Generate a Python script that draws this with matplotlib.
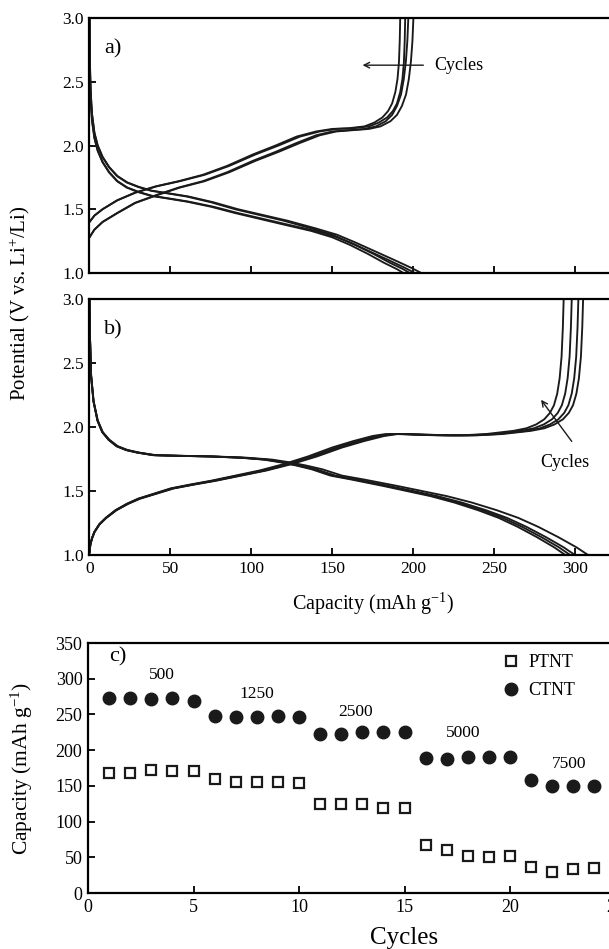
import numpy as np
import matplotlib.pyplot as plt

plt.rcParams['font.family'] = ['Liberation Serif', 'DejaVu Serif']
plt.rcParams['mathtext.fontset'] = 'custom'
plt.rcParams['mathtext.rm'] = 'Liberation Serif'
plt.rcParams['mathtext.it'] = 'Liberation Serif:italic'

# panel a) - charge / discharge, two bands of cycles each
a_chg_up_x = [0, 3, 8, 17, 28, 41, 55, 70, 85, 101, 115, 128, 140, 150, 160, 170, 176, 181, 184.5, 187, 189, 190.3, 191.2, 191.7, 192]
a_chg_up_v = [1.40, 1.45, 1.50, 1.57, 1.63, 1.68, 1.72, 1.77, 1.84, 1.93, 2.00, 2.07, 2.11, 2.13, 2.135, 2.15, 2.18, 2.22, 2.27, 2.33, 2.42, 2.52, 2.65, 2.82, 3.00]
a_chg_lo_x = [0, 3, 8, 17, 28, 41, 55, 70, 85, 101, 115, 128, 140, 150, 160, 170, 177, 183, 187, 190, 192.5, 194.2, 195.5, 196.4, 197]
a_chg_lo_v = [1.28, 1.34, 1.40, 1.47, 1.55, 1.61, 1.67, 1.72, 1.79, 1.88, 1.95, 2.02, 2.08, 2.11, 2.12, 2.13, 2.15, 2.19, 2.24, 2.31, 2.40, 2.52, 2.66, 2.82, 3.00]
a_chg_factor = [1.0, 1.016]

a_dis_up_x = [0, 0.2, 0.6, 1.5, 3, 5, 8, 12, 17, 23, 30, 38, 48, 60, 75, 90, 105, 120, 137, 150, 161, 173, 185, 195, 201]
a_dis_up_v = [3.0, 2.7, 2.45, 2.25, 2.1, 2.0, 1.91, 1.83, 1.76, 1.71, 1.675, 1.645, 1.625, 1.60, 1.555, 1.50, 1.455, 1.41, 1.35, 1.30, 1.24, 1.17, 1.10, 1.04, 1.0]
a_dis_lo_x = [0, 0.2, 0.6, 1.5, 3, 5, 8, 12, 17, 23, 30, 38, 48, 60, 75, 90, 105, 120, 137, 150, 161, 172, 182, 190, 194]
a_dis_lo_v = [3.0, 2.65, 2.4, 2.2, 2.06, 1.96, 1.87, 1.79, 1.72, 1.67, 1.635, 1.605, 1.585, 1.56, 1.52, 1.47, 1.425, 1.38, 1.33, 1.28, 1.22, 1.15, 1.08, 1.03, 1.0]
a_dis_factor = [1.0, 1.02]

# panel b)
b_dis_x = [0, 0.3, 1, 2.5, 5, 8, 12, 17, 23, 30, 40, 55, 75, 95, 110, 120, 130, 140, 152, 165, 185, 200, 215, 230, 245, 258, 270, 282, 293, 300]
b_dis_v = [3.0, 2.7, 2.4, 2.2, 2.05, 1.96, 1.90, 1.85, 1.82, 1.80, 1.78, 1.775, 1.77, 1.76, 1.745, 1.725, 1.70, 1.67, 1.62, 1.59, 1.54, 1.50, 1.46, 1.41, 1.35, 1.29, 1.22, 1.14, 1.06, 1.0]
b_dis_factor = [0.98, 0.99, 1.0, 1.027]

b_chg_x = [0, 0.5, 1.5, 3, 6, 10, 16, 23, 30, 40, 50, 62, 75, 90, 105, 120, 135, 150, 163, 175, 183, 190, 200, 215, 230, 245, 262, 270, 276, 281, 284.5, 287, 289, 290.5, 291.7, 292.5, 293]
b_chg_v = [1.02, 1.08, 1.13, 1.18, 1.24, 1.29, 1.35, 1.40, 1.44, 1.48, 1.52, 1.55, 1.58, 1.62, 1.66, 1.71, 1.77, 1.84, 1.89, 1.93, 1.945, 1.945, 1.94, 1.935, 1.935, 1.945, 1.97, 1.99, 2.02, 2.06, 2.11, 2.17, 2.26, 2.38, 2.55, 2.78, 3.0]
b_chg_factor = [1.0, 1.017, 1.031, 1.041]

# panel c) - rate capability
cycles = list(range(1, 26))
ptnt = [168, 168, 172, 171, 171, 160, 156, 156, 156, 154,
        125, 125, 125, 119, 119, 67, 60, 52, 51, 52,
        36, 30, 33, 35, 35]
ctnt = [273, 273, 271, 273, 269, 248, 247, 247, 248, 247,
        223, 223, 225, 225, 226, 189, 188, 191, 190, 191,
        158, 150, 150, 150, 150]
rates = ['500', '1250', '2500', '5000', '7500']
rate_x = [3.5, 8.0, 12.7, 17.8, 22.8]
rate_y = [305, 279, 254, 224, 181]

W, H = 609, 949
fig = plt.figure(figsize=(W / 100, H / 100), dpi=100)

k = (575 - 89.5) / 300.0
ax_a = fig.add_axes([89.5 / W, 1 - 273 / H, 350 * k / W, 255 / H])
ax_b = fig.add_axes([89.5 / W, 1 - 555 / H, 350 * k / W, 256 / H])
ax_c = fig.add_axes([88 / W, 1 - 893 / H, 30 * 21.1 / W, 250 / H])


def style(ax, size):
    for s in ax.spines.values():
        s.set_linewidth(1.6)
    ax.tick_params(direction='in', length=5, width=1.3, labelsize=size,
                   top=False, right=False, pad=4)


lw = 1.35
col = '#1a1a1a'
for xs, vs in [(a_chg_up_x, a_chg_up_v), (a_chg_lo_x, a_chg_lo_v)]:
    for f in a_chg_factor:
        ax_a.plot(np.array(xs) * f, vs, color=col, lw=lw)
for xs, vs in [(a_dis_up_x, a_dis_up_v), (a_dis_lo_x, a_dis_lo_v)]:
    for f in a_dis_factor:
        ax_a.plot(np.array(xs) * f, vs, color=col, lw=lw)

for f in b_dis_factor:
    ax_b.plot(np.array(b_dis_x) * f, b_dis_v, color=col, lw=lw)
for f in b_chg_factor:
    ax_b.plot(np.array(b_chg_x) * f, b_chg_v, color=col, lw=lw)

for ax in (ax_a, ax_b):
    ax.set_xlim(0, 350)
    ax.set_ylim(1.0, 3.0)
    ax.set_xticks(range(0, 351, 50))
    ax.set_yticks([1.0, 1.5, 2.0, 2.5, 3.0])
    ax.set_yticklabels(['1.0', '1.5', '2.0', '2.5', '3.0'])
    style(ax, 12.5)
ax_a.set_xticklabels([])
ax_b.set_xlabel('Capacity (mAh g$^{\\mathregular{-1}}$)', fontsize=14.5, labelpad=10)

ax_a.text(9, 2.76, 'a)', fontsize=16, va='center')
ax_b.text(9, 2.76, 'b)', fontsize=16, va='center')

ax_a.annotate('', xy=(167, 2.63), xytext=(208, 2.63),
              arrowprops=dict(arrowstyle='->', lw=1.0, color=col))
ax_a.text(213, 2.63, 'Cycles', fontsize=13, va='center')
ax_b.annotate('', xy=(278, 2.23), xytext=(299, 1.87),
              arrowprops=dict(arrowstyle='->', lw=1.0, color=col))
ax_b.text(294, 1.72, 'Cycles', fontsize=13, va='center', ha='center')

fig.text(20 / W, 1 - 303 / H, 'Potential (V vs. Li$^{\\mathregular{+}}$/Li)',
         rotation=90, fontsize=15, ha='center', va='center')

# panel c
ax_c.plot(cycles, ptnt, 's', ms=7.5, mfc='white', mec=col, mew=1.6, label='PTNT')
ax_c.plot(cycles, ctnt, 'o', ms=9, color=col, label='CTNT')
ax_c.set_xlim(0, 30)
ax_c.set_ylim(0, 350)
ax_c.set_xticks(range(0, 31, 5))
ax_c.set_yticks(range(0, 351, 50))
style(ax_c, 13)
ax_c.set_xlabel('Cycles', fontsize=18, labelpad=8)
ax_c.set_ylabel('Capacity (mAh g$^{\\mathregular{-1}}$)', fontsize=15.5)
ax_c.yaxis.set_label_coords(-(88 - 35) / (30 * 21.1), 0.5)
ax_c.text(1.0, 330, 'c)', fontsize=16, va='center')
for lab, x, y in zip(rates, rate_x, rate_y):
    ax_c.text(x, y, lab, fontsize=12.5, ha='center', va='center')
ax_c.legend(loc='upper left', bbox_to_anchor=(0.654, 0.955), frameon=False,
            fontsize=13, handlelength=1.0, handletextpad=0.45,
            labelspacing=0.6, borderaxespad=0, borderpad=0)

fig.savefig('out.png', dpi=100)
